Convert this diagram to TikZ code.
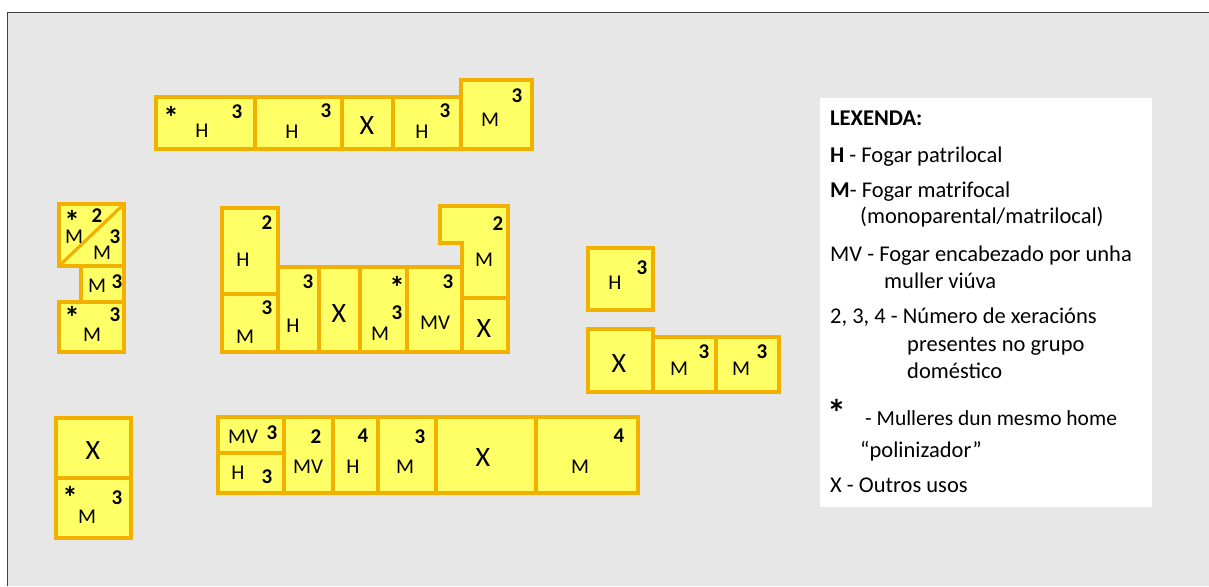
\documentclass[tikz,border=0pt]{standalone}
\usepackage{fontspec}
\setmainfont{Carlito}
\definecolor{bgc}{HTML}{E7E7E7}
\definecolor{boxfill}{HTML}{FFFF66}
\definecolor{boxline}{HTML}{F2B000}
\definecolor{framec}{HTML}{404040}
\newcommand{\astk}{\raisebox{-0.33em}[0.37em][0pt]{*}}
\begin{document}
\begin{tikzpicture}[x=1pt,y=-1pt,
  cell/.style={draw=boxline,fill=boxfill,line width=3.2pt,line join=miter},
  lt/.style={font=\fontsize{21}{24}\selectfont,inner sep=0pt},
  num/.style={font=\fontsize{21}{24}\selectfont\bfseries,inner sep=0pt},
  xx/.style={font=\fontsize{28}{30}\selectfont,inner sep=0pt},
  st/.style={font=\fontsize{31}{33}\selectfont\bfseries,inner sep=0pt},
  leg/.style={font=\fontsize{22.5}{26}\selectfont,inner sep=0pt,anchor=base west}]
% background
\useasboundingbox (0,0) rectangle (1209,586);
\fill[white] (0,0) rectangle (1209,586);
\fill[bgc] (7,13) rectangle (1209,586);
\draw[framec,line width=1pt] (7,586) -- (7,13) -- (1209,13);

% ---- top row
\draw[cell] (156,97) rectangle (255,149);
\draw[cell] (255,97) rectangle (342,149);
\draw[cell] (342,97) rectangle (393,149);
\draw[cell] (393,97) rectangle (461,149);
\draw[cell] (461,80) rectangle (532,149);
\node[st] (a1s) at (171,113) {\astk};
\node[lt] (a1h) at (202,131) {H};
\node[num] (a1n) at (237,112) {3};
\node[lt] (a2h) at (292,132) {H};
\node[num] (a2n) at (326,111) {3};
\node[xx] (a3x) at (367,126) {X};
\node[lt] (a4h) at (422,132) {H};
\node[num] (a4n) at (445,111) {3};
\node[lt] (a5m) at (490,120) {M};
\node[num] (a5n) at (517,96) {3};

% ---- left column
\draw[cell] (59,204) rectangle (124,266);
\draw[boxline,line width=3.2pt] (59,266) -- (124,204);
\draw[cell] (81,266) rectangle (124,302);
\draw[cell] (59,302) rectangle (124,352);
\node[st] (b1s) at (72,217) {\astk};
\node[num] (b1n) at (97,216) {2};
\node[lt] (b1m) at (74,237) {M};
\node[num] (b1k) at (115,237) {3};
\node[lt] (b1p) at (102,253) {M};
\node[lt] (b2m) at (97,286) {M};
\node[num] (b2n) at (117,282) {3};
\node[st] (b3s) at (72,313) {\astk};
\node[num] (b3n) at (115,315) {3};
\node[lt] (b3m) at (92,335) {M};

% ---- central block
\draw[cell] (222,208) rectangle (278,294);
\draw[cell] (222,294) rectangle (278,352);
\draw[cell] (278,267) rectangle (319,352);
\draw[cell] (319,267) rectangle (360,352);
\draw[cell] (360,267) rectangle (407,352);
\draw[cell] (407,267) rectangle (462,352);
\draw[cell] (440,206) -- (508,206) -- (508,298) -- (462,298) -- (462,243) -- (440,243) -- cycle;
\draw[cell] (462,298) rectangle (508,352);
\node[num] (c1n) at (267,223) {2};
\node[lt] (c1h) at (243,260) {H};
\node[num] (c2n) at (267,308) {3};
\node[lt] (c2m) at (245,337) {M};
\node[num] (c3n) at (308,282) {3};
\node[lt] (c3h) at (293,326) {H};
\node[xx] (c4x) at (339,314) {X};
\node[st] (c5s) at (397,283) {\astk};
\node[num] (c5n) at (397,313) {3};
\node[lt] (c5m) at (380,334) {M};
\node[num] (c6n) at (448,282) {3};
\node[lt] (c6m) at (435,323) {MV};
\node[num] (c7n) at (498,224) {2};
\node[lt] (c7m) at (484,260) {M};
\node[xx] (c8x) at (484,329) {X};

% ---- right block
\draw[cell] (588,248) rectangle (653,310);
\draw[cell] (588,329) rectangle (653,392);
\draw[cell] (653,337) rectangle (716,392);
\draw[cell] (716,337) rectangle (779,392);
\node[lt] (d1h) at (615,283) {H};
\node[num] (d1n) at (642,268) {3};
\node[xx] (d2x) at (619,364) {X};
\node[lt] (d3m) at (679,369) {M};
\node[num] (d3n) at (704,352) {3};
\node[lt] (d4m) at (741,369) {M};
\node[num] (d4n) at (762,352) {3};

% ---- bottom left
\draw[cell] (56,418) rectangle (131,478);
\draw[cell] (56,478) rectangle (131,538);
\node[xx] (e1x) at (93,451) {X};
\node[st] (e2s) at (70,493) {\astk};
\node[num] (e2n) at (117,498) {3};
\node[lt] (e2m) at (87,517) {M};

% ---- bottom row
\draw[cell] (218,417) rectangle (284,453);
\draw[cell] (218,453) rectangle (284,493);
\draw[cell] (284,417) rectangle (333,493);
\draw[cell] (333,417) rectangle (378,493);
\draw[cell] (378,417) rectangle (436,493);
\draw[cell] (436,417) rectangle (536,493);
\draw[cell] (536,417) rectangle (638,493);
\node[lt] (f1m) at (243,437) {MV};
\node[num] (f1n) at (272,433) {3};
\node[lt] (f2h) at (238,473) {H};
\node[num] (f2n) at (267,477) {3};
\node[num] (f3n) at (316,437) {2};
\node[lt] (f3m) at (308,467) {MV};
\node[num] (f4n) at (363,436) {4};
\node[lt] (f4h) at (353,467) {H};
\node[num] (f5n) at (420,437) {3};
\node[lt] (f5m) at (405,467) {M};
\node[xx] (f6x) at (483,458) {X};
\node[num] (f7n) at (619,436) {4};
\node[lt] (f7m) at (580,467) {M};

% ---- legend
\fill[white] (820,98) rectangle (1152,507);
\node[leg,font=\fontsize{22.5}{26}\selectfont\bfseries] (g0) at (830,125) {LEXENDA:};
\node[leg] (g1) at (830,162) {\textbf{H} - Fogar patrilocal};
\node[leg] (g2) at (830,197) {\textbf{M}- Fogar matrifocal};
\node[leg] (g3) at (860,223) {(monoparental/matrilocal)};
\node[leg] (g4) at (830,261) {MV - Fogar encabezado\ por unha};
\node[leg] (g5) at (884,288) {muller viúva};
\node[leg] (g6) at (830,323) {2, 3, 4 - Número\ de xeracións};
\node[leg] (g7) at (907,351) {presentes no grupo};
\node[leg] (g8) at (907,378) {doméstico};
\node[st,font=\fontsize{38}{40}\selectfont\bfseries] (g9s) at (837,407) {\astk};
\node[leg,font=\fontsize{21.5}{26}\selectfont] (g9) at (865,425) {- Mulleres dun mesmo home};
\node[leg] (g10) at (860,457) {“polinizador”};
\node[leg] (g11) at (830,492) {X - Outros\ usos};
\end{tikzpicture}
\end{document}
